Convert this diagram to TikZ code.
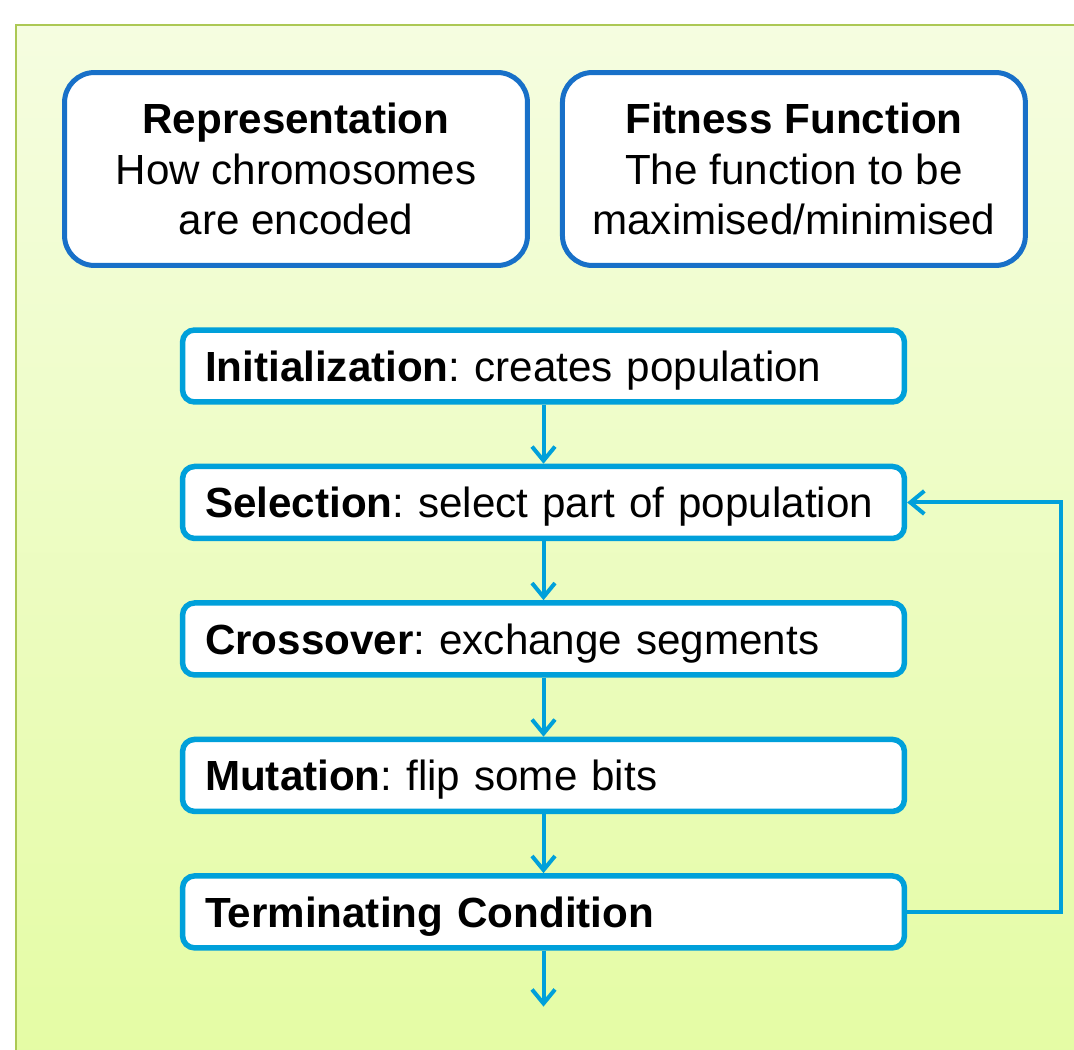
\documentclass[tikz,border=0pt]{standalone}
\usepackage{fontspec}
\setmainfont{Liberation Sans}
\usetikzlibrary{positioning,arrows.meta}
\definecolor{panelGreen}{RGB}{172,200,84}
\definecolor{panelTop}{RGB}{245,253,224}
\definecolor{panelBottom}{RGB}{228,252,163}
\definecolor{boxNavy}{RGB}{24,112,200}
\definecolor{flowCyan}{RGB}{0,160,218}

\begin{document}
\frenchspacing
\begin{tikzpicture}[x=0.02cm,y=-0.02cm,
  infobox/.style={rounded corners=0.6cm,draw=boxNavy,fill=white,line width=0.1cm,minimum width=9.26cm,minimum height=3.86cm,align=center,inner sep=0pt,font=\fontsize{24}{28.5}\selectfont},
  stagebox/.style={rounded corners=0.24cm,draw=flowCyan,fill=white,line width=0.11cm,text width=13.54cm,inner xsep=0.45cm,inner ysep=0pt,minimum height=1.44cm,text height=0.72cm,text depth=0.1cm,align=left,font=\fontsize{24}{28.5}\selectfont},
  flow/.style={draw=flowCyan,line width=0.08cm,-{Straight Barb[length=0.28cm,width=0.46cm,line width=0.08cm]}},
  node distance=1.18cm]
\useasboundingbox (0,0) rectangle (1074,1050);
\shade[top color=panelTop,bottom color=panelBottom,draw=panelGreen,line width=0.85pt] (16,25) rectangle (1100,1080);

\node[infobox] (repr) at (296,169) {\textbf{Representation}\\How chromosomes\\are encoded};
\node[infobox,right=0.6cm of repr] (fit) {\textbf{Fitness Function}\\The function to be\\maximised/minimised};

\node[stagebox] (init) at (543.5,366) {\textbf{Initialization}: creates population};
\node[stagebox,below=of init] (sel) {\textbf{Selection}: select part of population};
\node[stagebox,below=of sel] (cross) {\textbf{Crossover}: exchange segments};
\node[stagebox,below=of cross] (mut) {\textbf{Mutation}: flip some bits};
\node[stagebox,below=of mut] (term) {\textbf{Terminating Condition}};
\coordinate[below=1.12cm of term] (done);
\coordinate[right=3.07cm of term.east] (loop);

\draw[flow] (init) -- (sel);
\draw[flow] (sel) -- (cross);
\draw[flow] (cross) -- (mut);
\draw[flow] (mut) -- (term);
\draw[flow] (term) -- (done);
\draw[flow] (term.east) -- (loop) |- (sel.east);
\end{tikzpicture}
\end{document}
